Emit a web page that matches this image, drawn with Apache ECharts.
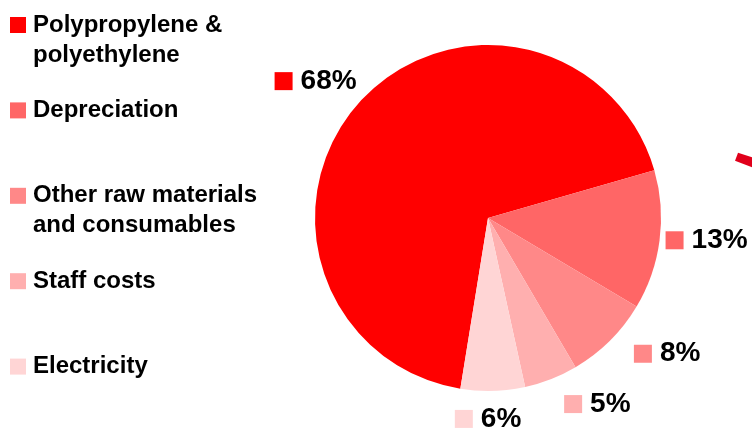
<!DOCTYPE html>
<html>
<head>
<meta charset="utf-8">
<script src="https://cdn.jsdelivr.net/npm/echarts@6/dist/echarts.min.js"></script>
<style>
html,body{margin:0;padding:0;background:#fff;}
#chart{width:752px;height:428px;}
</style>
</head>
<body>
<div id="chart"></div>
<script>
// Data
var categories = ['Polypropylene &\npolyethylene', 'Depreciation', 'Other raw materials\nand consumables', 'Staff costs', 'Electricity'];
var values = [68, 13, 8, 5, 6];
var colors = ['#ff0000', '#ff6666', '#ff8888', '#ffafaf', '#ffd5d5'];
// label offsets from the default outside position (layout, not data)
var labelShift = [[-2, -22], [6, 0], [24, 13], [13, 25], [-38, 28]];

var chart = echarts.init(document.getElementById('chart'), null, {renderer: 'canvas'});
var font = '"Liberation Sans", Arial, sans-serif';

var seriesData = categories.map(function (c, i) {
  return {
    name: c,
    value: values[i],
    itemStyle: {color: colors[i]},
    label: {
      rich: {
        sq: {width: 18, height: 18, backgroundColor: colors[i]},
        g: {width: 8},
        v: {fontSize: 28, fontWeight: 'bold', color: '#000', fontFamily: font}
      }
    }
  };
});

var option = {
  backgroundColor: '#ffffff',
  animation: false,
  legend: {
    orient: 'vertical',
    left: 5,
    top: -25,
    itemWidth: 16,
    itemHeight: 16,
    itemGap: -4.6,
    icon: 'rect',
    selectedMode: false,
    data: categories,
    formatter: function (name) {
      var lines = name.split('\n');
      if (lines.length === 1) return '\n' + name + '\n';
      return '\n' + name;
    },
    textStyle: {
      fontFamily: font,
      fontSize: 24,
      fontWeight: 'bold',
      color: '#000',
      lineHeight: 30,
      padding: [0, 0, 0, 2]
    }
  },
  graphic: [{
    type: 'polygon',
    shape: {points: [[738, 152.7], [752, 157.3], [752, 167.3], [735, 160.7]]},
    style: {fill: '#e0001b'},
    silent: true
  }],
  series: [{
    type: 'pie',
    center: [488, 218],
    radius: [0, 173],
    startAngle: 260.8,
    clockwise: true,
    avoidLabelOverlap: false,
    data: seriesData,
    label: {
      show: true,
      position: 'outside',
      distanceToLabelLine: 0,
      formatter: function (p) { return '{sq|}{g|}{v|' + p.value + '%}'; }
    },
    labelLine: {show: false, length: 0, length2: 0},
    labelLayout: function (params) {
      var s = labelShift[params.dataIndex];
      return {dx: s[0], dy: s[1]};
    },
    emphasis: {disabled: true}
  }]
};
chart.setOption(option);
</script>
</body>
</html>
